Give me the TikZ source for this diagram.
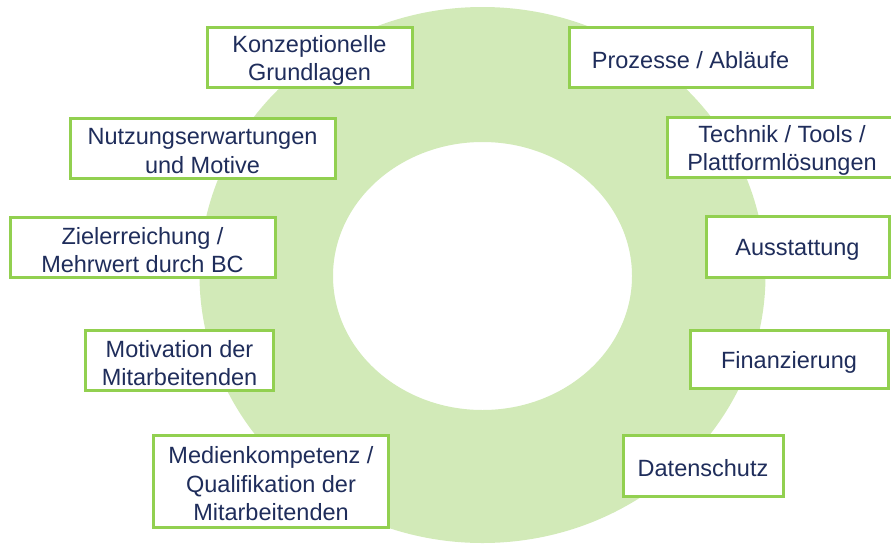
\documentclass[tikz,border=0pt]{standalone}
\usepackage{fontspec}
\setmainfont{Liberation Sans}
\definecolor{ringgreen}{HTML}{D2EAB8}
\definecolor{boxgreen}{HTML}{92D050}
\definecolor{navy}{HTML}{1F2D5B}
\begin{document}
\begin{tikzpicture}[x=1pt,y=-1pt,
  box/.style={draw=boxgreen, line width=3pt, fill=white, inner sep=0pt},
  txt/.style={text=navy, align=center, inner sep=0pt, yshift=-3pt,
    font=\fontsize{23.5}{28.5}\selectfont}]
\useasboundingbox (0,0) rectangle (891,544);
\fill[ringgreen, even odd rule] (482.5,275) ellipse [x radius=283, y radius=268]
  (482.5,276) ellipse [x radius=149.5, y radius=134];
\node[box, minimum width=205pt, minimum height=60pt] (k) at (309.5,57.5) {};
\node[box, minimum width=243pt, minimum height=60pt] (p) at (690.5,57.5) {};
\node[box, minimum width=265pt, minimum height=60pt] (n) at (202.5,148) {};
\node[box, minimum width=226pt, minimum height=60pt] (t) at (780,147.5) {};
\node[box, minimum width=265pt, minimum height=60pt] (z) at (142.5,247) {};
\node[box, minimum width=183pt, minimum height=61pt] (a) at (797.5,247) {};
\node[box, minimum width=188pt, minimum height=60pt] (m) at (179.5,360) {};
\node[box, minimum width=198pt, minimum height=58pt] (f) at (789,359) {};
\node[box, minimum width=235pt, minimum height=92pt] (q) at (271,481) {};
\node[box, minimum width=160pt, minimum height=61pt] (d) at (703,465.5) {};
\node[txt] (kt) at (k) {Konzeptionelle\\Grundlagen};
\node[txt] (pt) at (p) {Prozesse / Abläufe};
\node[txt] (nt) at (n) {Nutzungserwartungen\\und Motive};
\node[txt] (tt) at ([xshift=2pt]t.center) {Technik / Tools /\\Plattformlösungen};
\node[txt] (zt) at (z) {Zielerreichung /\\Mehrwert durch BC};
\node[txt] (at) at (a) {Ausstattung};
\node[txt] (mt) at (m) {Motivation der\\Mitarbeitenden};
\node[txt] (ft) at (f) {Finanzierung};
\node[txt] (qt) at (q) {Medienkompetenz /\\Qualifikation der\\Mitarbeitenden};
\node[txt] (dt) at (d) {Datenschutz};
\end{tikzpicture}
\end{document}
